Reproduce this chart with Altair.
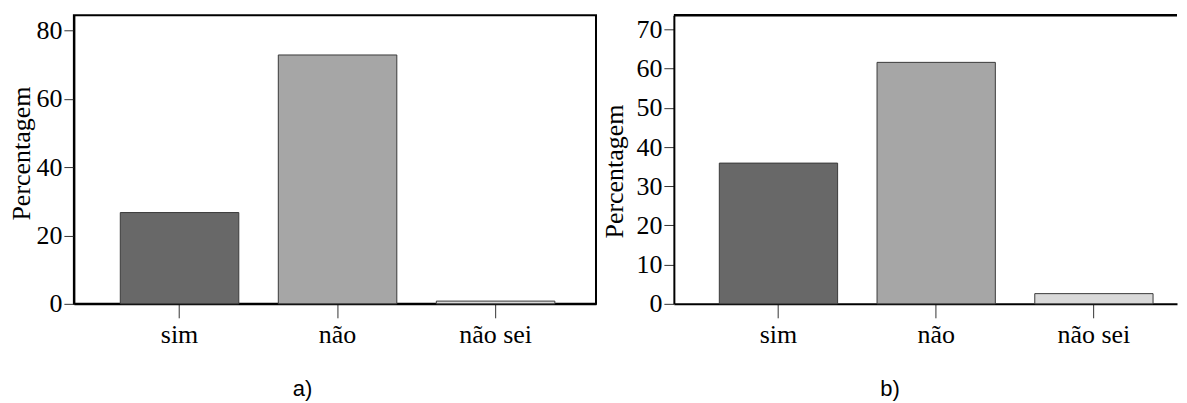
import altair as alt
import pandas as pd

categories = ["sim", "não", "não sei"]
values_a = [26.7, 72.8, 0.8]
values_b = [35.9, 61.6, 2.6]
bar_colors = ["#686868", "#a6a6a6", "#d9d9d9"]
y_ticks_a = [0, 20, 40, 60, 80]
y_ticks_b = [0, 10, 20, 30, 40, 50, 60, 70]
y_max_a = 84.4
y_max_b = 73.6
captions = ["a)", "b)"]
y_title = "Percentagem"


def bars(values, ymax, ticks, pad_outer, align, title_x, title_y):
    df = pd.DataFrame({"cat": categories, "val": values})
    return (
        alt.Chart(df)
        .mark_bar(stroke="#3a3a3a", strokeWidth=1)
        .encode(
            x=alt.X(
                "cat:N",
                sort=categories,
                scale=alt.Scale(paddingInner=0.25, paddingOuter=pad_outer, align=align),
                axis=alt.Axis(title=None, labelAngle=0),
            ),
            y=alt.Y(
                "val:Q",
                scale=alt.Scale(domain=[0, ymax], nice=False, zero=True),
                axis=alt.Axis(
                    title=y_title,
                    values=ticks,
                    grid=False,
                    titleX=title_x,
                    titleY=title_y,
                ),
            ),
            color=alt.Color(
                "cat:N",
                sort=categories,
                scale=alt.Scale(domain=categories, range=bar_colors),
                legend=None,
            ),
        )
    )


def caption_title(text):
    return alt.TitleParams(
        text,
        orient="bottom",
        anchor="middle",
        frame="bounds",
        font="Liberation Sans",
        fontSize=22,
        fontWeight="normal",
        color="black",
        offset=31,
    )


chart_a = (
    bars(values_a, y_max_a, y_ticks_a, 0.277, 0.53, -39, 138)
    .properties(
        width=523,
        height=289,
        title=caption_title(captions[0]),
        view=alt.ViewBackground(stroke="black", strokeWidth=2),
    )
)

# right panel: the frame is cut by the page edge, so only the top border shows
top_border = (
    alt.Chart(pd.DataFrame({"edge": ["top"]}))
    .mark_rule(color="black", strokeWidth=2.5)
    .encode(y=alt.value(0))
)
chart_b = (
    alt.layer(bars(values_b, y_max_b, y_ticks_b, 0.22, 0.655, -46, 156), top_border)
    .properties(
        width=504,
        height=289,
        title=caption_title(captions[1]),
        view=alt.ViewBackground(stroke="transparent"),
    )
)

chart = (
    alt.hconcat(chart_a, chart_b, spacing=4)
    .properties(padding={"left": 0, "top": 5, "right": 0, "bottom": 0})
    .configure_axis(
        domainColor="black",
        domainWidth=2,
        tickColor="#333333",
        tickWidth=1,
        labelFont="Liberation Serif",
        labelFontSize=26,
        labelColor="black",
        titleFont="Liberation Serif",
        titleFontSize=26,
        titleFontWeight="normal",
        titleColor="black",
    )
    .configure_axisY(tickSize=10, labelPadding=2, titlePadding=3)
    .configure_axisX(tickSize=14, labelPadding=4)
)

chart.save("out.html", embed_options={"renderer": "svg", "actions": False})
